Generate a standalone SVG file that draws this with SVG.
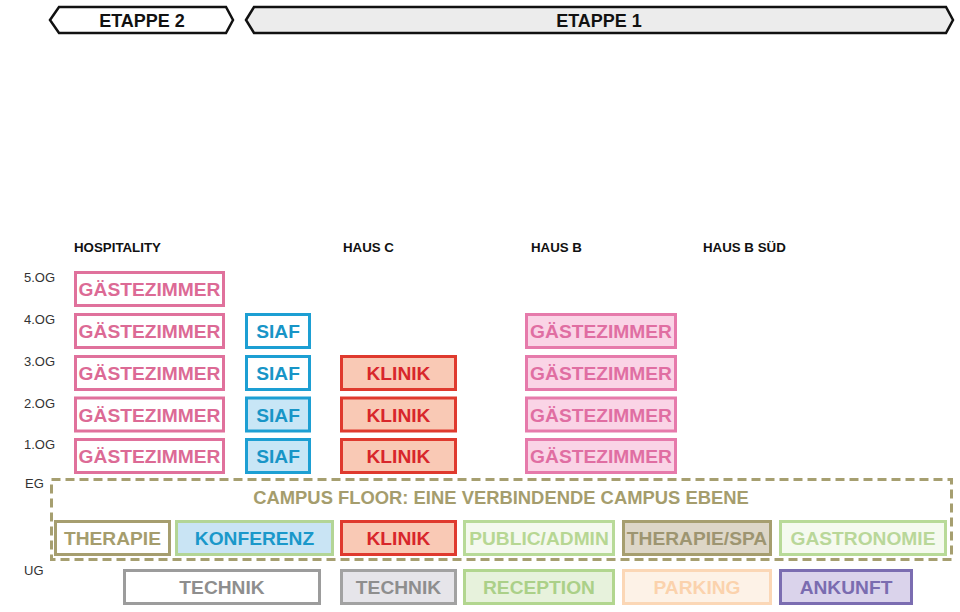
<svg xmlns="http://www.w3.org/2000/svg" width="960" height="612" viewBox="0 0 960 612">
<style>
text{font-family:"Liberation Sans",Arial,sans-serif}
.hdr{font-size:13.3px;font-weight:bold;fill:#111}
.fl{font-size:13px;fill:#333}
.et{font-size:18px;font-weight:bold;fill:#111;text-anchor:middle}
.bx{stroke-width:3}
.lb{font-size:19.2px;font-weight:bold;text-anchor:middle}
.gz rect{fill:#fff;stroke:#e0719c}
.gz text{fill:#dc6a95}
.gzb rect{fill:#fad4e6;stroke:#e67aab}
.gzb text{fill:#e06ea2}
.siaf rect{stroke:#1d9fd3}
.siaf text{fill:#1895c7}
.kl rect{fill:#f9c9b5;stroke:#df3a2e}
.kl text{fill:#d8262b}
</style>
<rect width="960" height="612" fill="#fff"/>
<g id="etappe2">
<polygon points="50,20 59,7 226,7 233,20 226,33 59,33" fill="#fff" stroke="#111" stroke-width="2.5" stroke-linejoin="miter"/>
<text class="et" x="142" y="27">ETAPPE 2</text>
</g>
<g id="etappe1">
<polygon points="246,20 254,7 946,7 953,20 946,33 254,33" fill="#ececec" stroke="#111" stroke-width="2.5"/>
<text class="et" x="599" y="27">ETAPPE 1</text>
</g>
<g id="headers">
<text class="hdr" x="74" y="252">HOSPITALITY</text>
<text class="hdr" x="343" y="252">HAUS C</text>
<text class="hdr" x="531" y="252">HAUS B</text>
<text class="hdr" x="703" y="252">HAUS B SÜD</text>
</g>
<g id="floors">
<text class="fl" x="24" y="282">5.OG</text>
<text class="fl" x="24" y="324">4.OG</text>
<text class="fl" x="24" y="366">3.OG</text>
<text class="fl" x="24" y="408">2.OG</text>
<text class="fl" x="24" y="449">1.OG</text>
<text class="fl" x="25" y="488">EG</text>
<text class="fl" x="24" y="575">UG</text>
</g>
<g id="hosp-5og" class="gz"><rect class="bx" x="75.5" y="272.5" width="148" height="33"/><text class="lb" x="149.5" y="296">GÄSTEZIMMER</text></g>
<g id="hosp-4og" class="gz"><rect class="bx" x="75.5" y="314.5" width="148" height="33"/><text class="lb" x="149.5" y="338">GÄSTEZIMMER</text></g>
<g id="hosp-3og" class="gz"><rect class="bx" x="75.5" y="356.5" width="148" height="33"/><text class="lb" x="149.5" y="380">GÄSTEZIMMER</text></g>
<g id="hosp-2og" class="gz"><rect class="bx" x="75.5" y="398" width="148" height="33"/><text class="lb" x="149.5" y="421.5">GÄSTEZIMMER</text></g>
<g id="hosp-1og" class="gz"><rect class="bx" x="75.5" y="439.5" width="148" height="33"/><text class="lb" x="149.5" y="463">GÄSTEZIMMER</text></g>
<g id="siaf-4og" class="siaf"><rect class="bx" x="246.5" y="314.5" width="63" height="33" fill="#fff"/><text class="lb" x="278" y="338">SIAF</text></g>
<g id="siaf-3og" class="siaf"><rect class="bx" x="246.5" y="356.5" width="63" height="33" fill="#fff"/><text class="lb" x="278" y="380">SIAF</text></g>
<g id="siaf-2og" class="siaf"><rect class="bx" x="246.5" y="398" width="63" height="33" fill="#c8e6f6"/><text class="lb" x="278" y="421.5">SIAF</text></g>
<g id="siaf-1og" class="siaf"><rect class="bx" x="246.5" y="439.5" width="63" height="33" fill="#c8e6f6"/><text class="lb" x="278" y="463">SIAF</text></g>
<g id="klinik-3og" class="kl"><rect class="bx" x="341.5" y="356.5" width="114" height="33"/><text class="lb" x="398.5" y="380">KLINIK</text></g>
<g id="klinik-2og" class="kl"><rect class="bx" x="341.5" y="398" width="114" height="33"/><text class="lb" x="398.5" y="421.5">KLINIK</text></g>
<g id="klinik-1og" class="kl"><rect class="bx" x="341.5" y="439.5" width="114" height="33"/><text class="lb" x="398.5" y="463">KLINIK</text></g>
<g id="hausb-4og" class="gzb"><rect class="bx" x="526.5" y="314.5" width="149" height="33"/><text class="lb" x="601" y="338">GÄSTEZIMMER</text></g>
<g id="hausb-3og" class="gzb"><rect class="bx" x="526.5" y="356.5" width="149" height="33"/><text class="lb" x="601" y="380">GÄSTEZIMMER</text></g>
<g id="hausb-2og" class="gzb"><rect class="bx" x="526.5" y="398" width="149" height="33"/><text class="lb" x="601" y="421.5">GÄSTEZIMMER</text></g>
<g id="hausb-1og" class="gzb"><rect class="bx" x="526.5" y="439.5" width="149" height="33"/><text class="lb" x="601" y="463">GÄSTEZIMMER</text></g>
<g id="campus-floor">
<rect x="51.5" y="479.5" width="900" height="80" fill="none" stroke="#a69f70" stroke-width="3" stroke-dasharray="9,5"/>
<text x="501" y="504" font-size="18.4" font-weight="bold" fill="#a59d6d" text-anchor="middle">CAMPUS FLOOR: EINE VERBINDENDE CAMPUS EBENE</text>
</g>
<g id="eg-therapie"><rect class="bx" x="55.5" y="521.5" width="114" height="33" fill="#fff" stroke="#a69e6f"/><text class="lb" x="112.5" y="545" fill="#a59d6d">THERAPIE</text></g>
<g id="eg-konferenz"><rect class="bx" x="176.5" y="521.5" width="156" height="33" fill="#c9e4f4" stroke="#b3d596"/><text class="lb" x="254.5" y="545" fill="#1a98ca">KONFERENZ</text></g>
<g id="eg-klinik" class="kl"><rect class="bx" x="341.5" y="521.5" width="114" height="33"/><text class="lb" x="398.5" y="545">KLINIK</text></g>
<g id="eg-public"><rect class="bx" x="464.5" y="521.5" width="149" height="33" fill="#f4f9ee" stroke="#b8da98"/><text class="lb" x="539" y="545" fill="#b7d793">PUBLIC/ADMIN</text></g>
<g id="eg-spa"><rect class="bx" x="623.5" y="521.5" width="147" height="33" fill="#ddd6c7" stroke="#a69e6f"/><text class="lb" x="697" y="545" fill="#9d9571">THERAPIE/SPA</text></g>
<g id="eg-gastro"><rect class="bx" x="780.5" y="521.5" width="165" height="33" fill="#f5faef" stroke="#b8da98"/><text class="lb" x="863" y="545" fill="#b9d799">GASTRONOMIE</text></g>
<g id="ug-technik1"><rect class="bx" x="124.5" y="570.5" width="195" height="33" fill="#fff" stroke="#9c9c9c"/><text class="lb" x="222" y="594" fill="#8e8e8e">TECHNIK</text></g>
<g id="ug-technik2"><rect class="bx" x="341.5" y="570.5" width="114" height="33" fill="#e6e5ea" stroke="#a2a2a2"/><text class="lb" x="398.5" y="594" fill="#8e8e8e">TECHNIK</text></g>
<g id="ug-reception"><rect class="bx" x="464.5" y="570.5" width="149" height="33" fill="#e7f2dc" stroke="#b2d68f"/><text class="lb" x="539" y="594" fill="#abd088">RECEPTION</text></g>
<g id="ug-parking"><rect class="bx" x="623.5" y="570.5" width="147" height="33" fill="#fdf2e7" stroke="#fbd7b6"/><text class="lb" x="697" y="594" fill="#fbd2ad">PARKING</text></g>
<g id="ug-ankunft"><rect class="bx" x="780.5" y="570.5" width="131" height="33" fill="#dad3eb" stroke="#7b6db1"/><text class="lb" x="846" y="594" fill="#7a6cb0">ANKUNFT</text></g>
<g id="connectors"/>
</svg>
